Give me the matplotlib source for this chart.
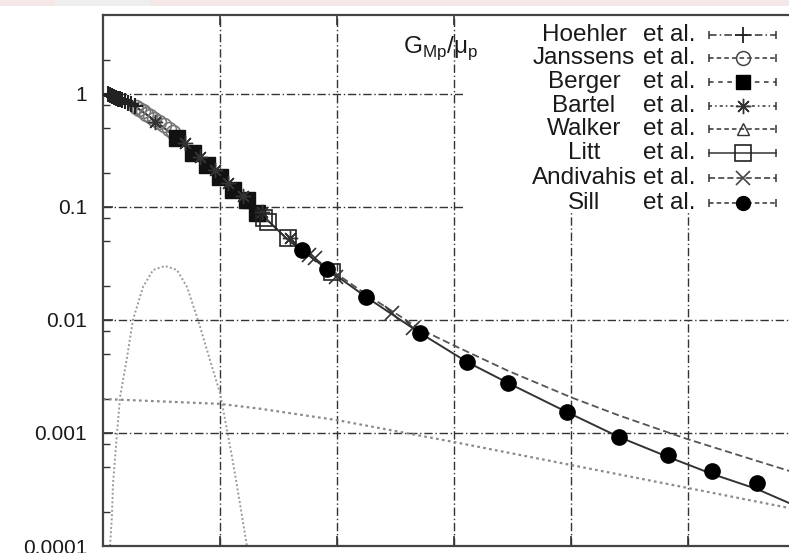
import matplotlib
matplotlib.use("Agg")
import matplotlib.pyplot as plt
from matplotlib.patches import Rectangle

plt.rcParams['font.family'] = ['Liberation Sans', 'DejaVu Sans']

# ---------------- data (x in arbitrary units 0..30, y = G_Mp/mu_p) ----------------
hoehler_x = [0.21, 0.30, 0.38, 0.47, 0.56, 0.64, 0.73, 0.81, 0.94, 1.07, 1.20, 1.37]
hoehler_y = [0.99, 0.97, 0.96, 0.94, 0.93, 0.91, 0.90, 0.88, 0.86, 0.84, 0.82, 0.78]

janssens_x = [1.4, 1.55, 1.7, 1.85, 2.0, 2.2, 2.4, 2.6, 2.8, 3.0]
janssens_y = [0.76, 0.73, 0.70, 0.67, 0.64, 0.60, 0.56, 0.53, 0.49, 0.46]

berger_x = [3.16, 3.85, 4.44, 5.00, 5.56, 6.15, 6.58]
berger_y = [0.408, 0.300, 0.235, 0.184, 0.141, 0.115, 0.0886]

bartel_x = [2.22, 3.50, 4.15, 4.79, 5.34, 5.98, 6.79, 7.99]
bartel_y = [0.565, 0.368, 0.277, 0.212, 0.163, 0.125, 0.0902, 0.0533]

walker_x = [4.9, 5.5, 6.2, 6.8]
walker_y = [0.19, 0.145, 0.11, 0.085]

litt_x = [6.9, 7.05, 7.91, 9.79]
litt_y = [0.080, 0.0738, 0.0533, 0.0265]

andivahis_x = [8.80, 9.06, 9.96, 12.35, 13.25]
andivahis_y = [0.0377, 0.0354, 0.0240, 0.0115, 0.0085]

sill_x = [8.50, 9.57, 11.24, 13.55, 15.56, 17.31, 19.83, 22.05, 24.15, 26.03, 27.95]
sill_y = [0.0416, 0.0283, 0.0160, 0.00767, 0.00425, 0.00277, 0.00153,
          0.000922, 0.000639, 0.000461, 0.000361]

# fit curves
fit_x = [0.0, 1.28, 2.01, 3.16, 4.44, 5.56, 6.71, 7.91, 9.57, 11.24, 13.55,
         15.56, 17.31, 19.83, 22.05, 24.15, 26.03, 27.95, 29.32, 30.0]
fit_y = [1.0, 0.799, 0.626, 0.408, 0.226, 0.141, 0.0885, 0.0511, 0.0283, 0.0160,
         0.00767, 0.00425, 0.00277, 0.00153, 0.000922, 0.000614, 0.000434, 0.000319,
         0.000240, 0.000215]

fit2_x = [0.0, 1.28, 2.01, 3.16, 4.44, 5.56, 6.71, 7.91, 9.57, 11.24, 13.55,
          14.96, 17.31, 20.0, 22.05, 24.96, 27.95, 29.32, 30.0]
fit2_y = [1.0, 0.799, 0.626, 0.408, 0.226, 0.141, 0.0885, 0.0511, 0.0294, 0.0169,
          0.0083, 0.0060, 0.00355, 0.00207, 0.00143, 0.000885, 0.000566, 0.000462, 0.00042]

broad_x = [0.0, 5.0, 6.71, 10.0, 15.0, 20.0, 25.0, 29.32, 30.0]
broad_y = [0.0020, 0.00181, 0.00164, 0.00130, 0.000832, 0.000521, 0.000326, 0.000217, 0.000205]

bump_x = [0.30, 0.38, 0.43, 0.60, 0.73, 1.03, 1.28, 1.71, 2.14, 2.65, 3.16, 3.59,
          4.06, 4.57, 5.00, 5.30, 5.56, 5.85, 6.15]
bump_y = [0.0001, 0.000181, 0.000361, 0.00100, 0.00208, 0.00471, 0.0100, 0.0196,
          0.0277, 0.0301, 0.0277, 0.0196, 0.0100, 0.00443, 0.00226, 0.00106,
          0.000543, 0.000240, 0.0001]

names = ['Hoehler', 'Janssens', 'Berger', 'Bartel', 'Walker', 'Litt', 'Andivahis', 'Sill']
ytick_vals = [1e-4, 1e-3, 1e-2, 1e-1, 1]
ytick_labels = ['0.0001', '0.001', '0.01', '0.1', '1']

# ---------------- figure ----------------
W, H = 789, 553
fig = plt.figure(figsize=(W / 100, H / 100), dpi=100)
L, R, T, B = 103, 805, 15, 546
ax = fig.add_axes([L / W, (H - B) / H, (R - L) / W, (B - T) / H])

# faint banner at very top
fig.patches.append(Rectangle((0, 1 - 6 / H), 1, 6 / H, transform=fig.transFigure,
                             facecolor='#f3e7e7', edgecolor='none'))
fig.patches.append(Rectangle((0.07, 1 - 6 / H), 0.12, 6 / H, transform=fig.transFigure,
                             facecolor='#efeeee', edgecolor='none'))

ax.set_xlim(0, 30)
ax.set_yscale('log')
ax.set_ylim(1e-4, 5)

ax.set_xticks([5, 10, 15, 20, 25, 30])
ax.set_xticklabels([])
ax.set_yticks(ytick_vals)
ax.set_yticklabels(ytick_labels)
minor = [m * 10.0 ** k for k in range(-4, 1) for m in (2, 5, 8)]
ax.set_yticks([v for v in minor if v < 5], minor=True)
ax.yaxis.set_minor_formatter(matplotlib.ticker.NullFormatter())
ax.tick_params(axis='both', which='major', direction='in', length=7, width=1.2,
               top=True, right=True, colors='#333333', labelcolor='#1a1a1a',
               labelsize=15, pad=11.5)
ax.tick_params(axis='both', which='minor', direction='in', length=5, width=1.0,
               top=False, right=True, colors='#333333')
for s in ax.spines.values():
    s.set_color('#444444')
    s.set_linewidth(1.6)

ax.set_axisbelow(True)
gridstyle = dict(color='#333333', linewidth=1.0, linestyle=(0, (6, 2, 1, 2)))
ax.grid(True, which='major', axis='both', **gridstyle)
ax.grid(False, which='minor')


def fx(px):
    return (px - L) / (R - L)


def fy(py):
    return (B - py) / (B - T)


# opaque key area
ax.add_patch(Rectangle((fx(463), fy(213)), 1 - fx(463), 1 - fy(213),
                       transform=ax.transAxes, facecolor='white', edgecolor='none',
                       zorder=1))

# curves
ax.plot(bump_x, bump_y, color='#9a9a9a', lw=1.4, linestyle=(0, (1, 1.2)), zorder=2)
ax.plot(broad_x, broad_y, color='#8a8a8a', lw=1.6, linestyle=(0, (1.2, 1.5)), zorder=2)
ax.plot(fit2_x, fit2_y, color='#555555', lw=1.3, linestyle=(0, (4, 2)), zorder=2)
ax.plot(fit_x, fit_y, color='#333333', lw=1.4, zorder=2)

# data points
ax.plot(janssens_x, janssens_y, 'o', ms=10, mfc='none', mec='#777777', mew=1.2, zorder=3)
ax.plot(hoehler_x, hoehler_y, '+', ms=12, color='#222222', mew=1.5, zorder=3)
ax.plot(walker_x, walker_y, '^', ms=9, mfc='none', mec='#444444', mew=1.0, zorder=3)
ax.plot(berger_x, berger_y, 's', ms=11, color='#111111', zorder=4)
ax.plot(bartel_x, bartel_y, marker=(8, 2, 0), ls='none', ms=11, color='#333333', mew=1.0, zorder=4)
ax.plot(litt_x, litt_y, 's', ms=11, mfc='none', mec='#222222', mew=1.2, zorder=4)
ax.plot(andivahis_x, andivahis_y, 'x', ms=10, color='#333333', mew=1.2, zorder=4)
ax.plot(sill_x, sill_y, 'o', ms=11, color='black', zorder=5)

# key
rows = [35, 58, 82, 106, 129, 153, 178, 203]
styles = [
    dict(marker='+', ms=11, mfc='none', mec='#222222', mew=1.3, ls=(0, (5, 2, 1, 2))),
    dict(marker='o', ms=10, mfc='none', mec='#444444', mew=1.1, ls=(0, (3, 2))),
    dict(marker='s', ms=10, mfc='black', mec='black', mew=1.0, ls=(0, (3, 3))),
    dict(marker=(8, 2, 0), ms=11, mfc='none', mec='#333333', mew=1.0, ls=(0, (2, 2, 1, 2))),
    dict(marker='^', ms=9, mfc='none', mec='#333333', mew=1.0, ls=(0, (3, 2))),
    dict(marker='s', ms=11, mfc='none', mec='#222222', mew=1.2, ls='-'),
    dict(marker='x', ms=10, mfc='none', mec='#444444', mew=1.2, ls=(0, (4, 2))),
    dict(marker='o', ms=10, mfc='black', mec='black', mew=1.0, ls=(0, (3, 2))),
]
for name, py, st in zip(names, rows, styles):
    ax.text(fx(584), fy(py), name, transform=ax.transAxes, ha='center', va='center',
            fontsize=17.5, color='#1a1a1a', zorder=6)
    ax.text(fx(643), fy(py), 'et al.', transform=ax.transAxes, ha='left', va='center',
            fontsize=17.5, color='#1a1a1a', zorder=6)
    ls = st.pop('ls')
    ax.plot([fx(709), fx(776)], [fy(py), fy(py)], transform=ax.transAxes, color='#333333',
            lw=1.1, ls=ls, clip_on=False, zorder=6)
    ax.plot([fx(709), fx(776)], [fy(py), fy(py)], transform=ax.transAxes, ls='none',
            marker='|', ms=6, mew=1.1, color='#333333', clip_on=False, zorder=6)
    ax.plot([fx(743)], [fy(py)], transform=ax.transAxes, ls='none', clip_on=False,
            zorder=7, **st)

ax.text(fx(403), fy(48), r'G$_{\mathregular{Mp}}$/μ$_{\mathregular{p}}$', transform=ax.transAxes,
        ha='left', va='center', fontsize=17.5, color='#1a1a1a', zorder=6)

fig.savefig('out.png', dpi=100)
